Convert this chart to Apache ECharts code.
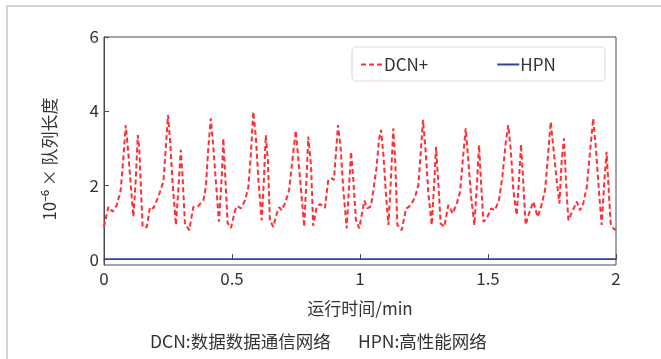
<!DOCTYPE html>
<html>
<head>
<meta charset="utf-8">
<script src="https://cdn.jsdelivr.net/npm/echarts@6/dist/echarts.min.js"></script>
<style>
  html, body { margin: 0; padding: 0; background: #fff; }
  #chart { width: 661px; height: 359px; }
</style>
</head>
<body>
<div id="chart"></div>
<script>
// Sampling times (min)
const timeMin = [
  0, 0.017, 0.034, 0.05, 0.065, 0.075, 0.085, 0.095, 0.105, 0.115, 0.124, 0.132, 0.138, 0.145, 0.151,
  0.167, 0.18, 0.193, 0.212, 0.232, 0.241, 0.25, 0.258, 0.268, 0.281, 0.292, 0.30, 0.307, 0.316,
  0.333, 0.349, 0.368, 0.388, 0.398, 0.407, 0.417, 0.427, 0.4375, 0.449, 0.46, 0.466, 0.475, 0.483,
  0.496, 0.512, 0.521, 0.535, 0.551, 0.564, 0.574, 0.583, 0.593, 0.603, 0.616, 0.624, 0.632, 0.64, 0.648,
  0.661, 0.675, 0.684, 0.694, 0.707, 0.723, 0.736, 0.749, 0.756, 0.772, 0.782, 0.792, 0.798, 0.809,
  0.817, 0.831, 0.844, 0.863, 0.876, 0.89, 0.898, 0.906, 0.914, 0.925, 0.935, 0.948, 0.957, 0.965, 0.974,
  0.984, 0.997, 1.01, 1.017, 1.029, 1.043, 1.052, 1.065, 1.074, 1.082, 1.091, 1.102, 1.111, 1.12, 1.13,
  1.138, 1.146, 1.163, 1.18, 1.189, 1.202, 1.215, 1.228, 1.237, 1.246, 1.257, 1.267, 1.28, 1.29, 1.297,
  1.306, 1.315, 1.329, 1.345, 1.362, 1.378, 1.391, 1.401, 1.413, 1.423, 1.434, 1.447, 1.457, 1.465, 1.473,
  1.482, 1.495, 1.512, 1.527, 1.543, 1.556, 1.569, 1.579, 1.589, 1.599, 1.612, 1.621, 1.629, 1.638, 1.647,
  1.66, 1.677, 1.694, 1.707, 1.723, 1.733, 1.745, 1.755, 1.768, 1.779, 1.788, 1.797, 1.805, 1.814,
  1.829, 1.847, 1.859, 1.872, 1.886, 1.898, 1.911, 1.922, 1.934, 1.944, 1.954, 1.963, 1.97, 1.979, 1.989, 2.0
];

// DCN+ queue length (×10^-6)
const dcnQueue = [
  0.87, 1.41, 1.28, 1.46, 1.86, 2.68, 3.62, 2.86, 1.95, 1.14, 2.14, 3.35, 2.95, 1.78, 0.87,
  0.86, 1.41, 1.37, 1.68, 2.09, 2.95, 3.89, 3.22, 2.05, 0.92, 2.05, 2.95, 2.22, 0.97,
  0.78, 1.41, 1.43, 1.59, 1.95, 2.95, 3.80, 3.03, 2.05, 1.01, 2.22, 3.26, 2.05, 0.97,
  0.84, 1.32, 1.43, 1.37, 1.59, 1.95, 2.86, 3.98, 3.31, 2.14, 1.05, 2.05, 3.35, 2.68, 1.05,
  0.87, 1.23, 1.40, 1.32, 1.50, 1.86, 2.68, 3.47, 2.95, 1.68, 0.87, 2.32, 3.31, 2.49,
  0.90, 1.41, 1.49, 1.38, 2.14, 2.18, 2.14, 2.86, 3.62, 2.95, 1.86, 0.83, 1.95, 2.90, 2.14,
  1.05, 0.83, 1.32, 1.58, 1.37, 1.43, 1.86, 2.49, 3.22, 3.49, 2.86, 1.68, 0.92, 2.05, 3.53,
  2.59, 0.92, 0.78, 1.37, 1.40, 1.50, 1.68, 2.0, 2.86, 3.76, 2.86, 1.78, 0.92, 2.05, 3.03,
  2.05, 0.96, 0.87, 1.46, 1.23, 1.50, 1.82, 2.63, 3.53, 2.68, 1.68, 0.92, 2.05, 3.08, 2.05,
  1.01, 1.10, 1.37, 1.32, 1.59, 2.22, 3.13, 3.62, 2.95, 1.86, 1.19, 2.14, 3.10, 2.05, 0.92,
  1.23, 1.55, 1.14, 1.41, 1.86, 2.68, 3.71, 3.03, 2.14, 1.50, 2.68, 3.26, 2.05, 1.05,
  1.28, 1.55, 1.32, 1.50, 1.95, 2.86, 3.80, 2.95, 1.78, 0.92, 2.05, 2.90, 2.05, 0.96, 0.83, 0.78
];

// HPN queue length stays at zero
const hpnTime = [0, 2];
const hpnQueue = [0, 0];

const xTicks = [0, 0.5, 1, 1.5, 2];
const yTicks = [0, 2, 4, 6];

const seriesNames = ['DCN+', 'HPN'];
const xAxisTitle = '运行时间/min';
const yAxisTitle = '10⁻⁶ × 队列长度';
const captionLeft = 'DCN:数据数据通信网络';
const captionRight = 'HPN:高性能网络';

const FONT = '"Noto Sans CJK SC", "Noto Sans", sans-serif';
const AXIS_COLOR = '#4a4a4a';
const TEXT_COLOR = '#333333';

const chart = echarts.init(document.getElementById('chart'), null, { renderer: 'canvas' });

chart.setOption({
  backgroundColor: '#ffffff',
  animation: false,
  textStyle: { fontFamily: FONT },
  grid: {
    left: 104, right: 45, top: 37, bottom: 94,
    show: true, borderColor: AXIS_COLOR, borderWidth: 1, backgroundColor: 'transparent'
  },
  graphic: [
    {
      type: 'rect', z: -10, silent: true,
      shape: { x: 7, y: 6, width: 720, height: 420 },
      style: { fill: 'none', stroke: '#d2d2d2', lineWidth: 2 }
    },
    {
      type: 'rect', z: 0, silent: true,
      shape: { x: 352, y: 47, width: 253, height: 34, r: 4 },
      style: { fill: '#ffffff', stroke: '#dcdcdc', lineWidth: 1.2 }
    },
    {
      type: 'text', silent: true, rotation: Math.PI / 2, x: 50, y: 159,
      style: {
        text: yAxisTitle, font: '17px ' + FONT, fill: TEXT_COLOR,
        align: 'center', verticalAlign: 'middle'
      }
    },
    {
      type: 'text', silent: true, x: 150, y: 341,
      style: { text: captionLeft, font: '17.5px ' + FONT, fill: TEXT_COLOR, verticalAlign: 'middle' }
    },
    {
      type: 'text', silent: true, x: 358, y: 341,
      style: { text: captionRight, font: '17.5px ' + FONT, fill: TEXT_COLOR, verticalAlign: 'middle' }
    }
  ],
  legend: {
    left: 355, top: 51, z: 10,
    itemWidth: 22, itemHeight: 10, itemGap: 68,
    itemStyle: { opacity: 0 },
    textStyle: { fontSize: 17, color: TEXT_COLOR, fontFamily: FONT, padding: [0, 0, 0, -4] },
    data: seriesNames
  },
  xAxis: {
    type: 'value', min: xTicks[0], max: xTicks[xTicks.length - 1], interval: 0.5,
    name: xAxisTitle, nameLocation: 'middle', nameGap: 35,
    nameTextStyle: { fontSize: 17, color: TEXT_COLOR, fontFamily: FONT },
    axisLine: { lineStyle: { color: AXIS_COLOR, width: 1 } },
    axisTick: { inside: true, length: 5, lineStyle: { color: AXIS_COLOR } },
    axisLabel: { fontSize: 17, color: TEXT_COLOR, margin: 5, fontFamily: FONT, showMinLabel: true, showMaxLabel: true },
    splitLine: { show: false }
  },
  yAxis: {
    type: 'value', min: -0.16, max: 6,
    axisLine: { show: true, lineStyle: { color: AXIS_COLOR, width: 1 } },
    axisTick: { inside: true, length: 5, customValues: yTicks, lineStyle: { color: AXIS_COLOR } },
    axisLabel: { fontSize: 17, color: TEXT_COLOR, margin: 5, fontFamily: FONT, customValues: yTicks },
    splitLine: { show: false }
  },
  series: [
    {
      name: seriesNames[0], type: 'line', symbol: 'none', z: 3,
      data: timeMin.map((t, i) => [t, dcnQueue[i]]),
      lineStyle: { color: '#ff2e35', width: 2, type: [5, 3] },
      itemStyle: { color: '#ff2e35' }
    },
    {
      name: seriesNames[1], type: 'line', symbol: 'none', z: 3,
      data: hpnTime.map((t, i) => [t, hpnQueue[i]]),
      lineStyle: { color: '#2d45a0', width: 1.6 },
      itemStyle: { color: '#2d45a0' }
    }
  ]
});
</script>
</body>
</html>
